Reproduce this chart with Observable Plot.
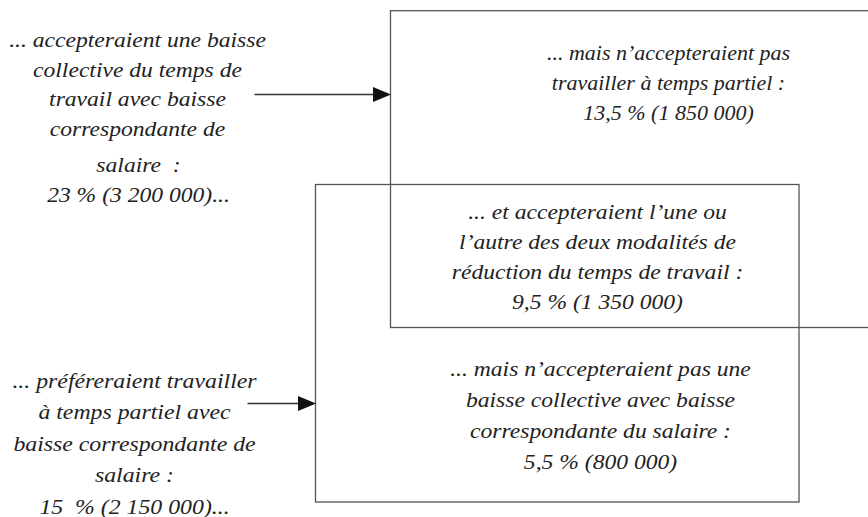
<!DOCTYPE html>
<html>
<head>
<meta charset="utf-8">
<script src="https://cdn.jsdelivr.net/npm/d3@7"></script>
<script src="https://cdn.jsdelivr.net/npm/@observablehq/plot@0.6"></script>
<style>
  html, body { margin: 0; padding: 0; background: #fff; overflow: hidden; }
</style>
</head>
<body>
<div id="chart"></div>
<script>
// ---- Diagram content ----
const boxNames = ["baisse collective", "temps partiel"];
const labelLines = [
  ["... accepteraient une baisse", "collective du temps de", "travail avec baisse", "correspondante de"],
  ["salaire  :", "23 % (3 200 000)..."],
  ["... mais n\u2019accepteraient pas", "travailler à temps partiel :", "13,5 % (1 850 000)"],
  ["... et accepteraient l\u2019une ou", "l\u2019autre des deux modalités de", "réduction du temps de travail :", "9,5 % (1 350 000)"],
  ["... mais n\u2019accepteraient pas une", "baisse collective avec baisse", "correspondante du salaire :", "5,5 % (800 000)"],
  ["... préféreraient travailler", "à temps partiel avec", "baisse correspondante de", "salaire :", "15  % (2 150 000)..."]
];

// ---- Layout (page coordinates, y grows downward) ----
const boxLeft   = [390.5, 315.5];
const boxRight  = [872, 799];
const boxTop    = [10.7, 184.5];
const boxBottom = [327.5, 502];

const arrowFrom  = [254, 247];
const arrowTo    = [390.5, 315.5];
const arrowY     = [94, 403];

const labelCenterX   = [137, 138, 668, 597, 600, 134];
const labelLastBase  = [135, 201, 119, 308, 468, 513];
const labelSpacing   = [29.4, 30, 30, 29.7, 30.7, 31.5];
const labelStretch   = [1.18, 1.18, 1.10, 1.18, 1.18, 1.19];

// ---- Build tables ----
const boxes = boxNames.map((name, i) => ({name, x1: boxLeft[i], x2: boxRight[i], y1: boxTop[i], y2: boxBottom[i]}));
const arrows = boxNames.map((name, i) => ({name, x1: arrowFrom[i], x2: arrowTo[i], y: arrowY[i]}));
const headLen = 18, headHalf = 7.5;
const heads = arrows.flatMap(a => [
  {id: a.name, x: a.x2, y: a.y},
  {id: a.name, x: a.x2 - headLen, y: a.y - headHalf},
  {id: a.name, x: a.x2 - headLen, y: a.y + headHalf}
]);

const fontSize = 20;
const textMarks = labelLines.map((lines, i) => Plot.text([lines.join("\n")], {
  x: () => labelCenterX[i],
  y: () => labelLastBase[i],
  text: d => d,
  textAnchor: "middle",
  lineAnchor: "bottom",
  lineHeight: labelSpacing[i] / fontSize,
  fontSize,
  fontStyle: "italic",
  fontFamily: "Liberation Serif",
  fill: "#222",
  className: "lbl" + i
}));

const chart = Plot.plot({
  width: 868,
  height: 517,
  margin: 0,
  style: {background: "#fff", overflow: "hidden"},
  x: {domain: [0, 868], range: [0, 868], axis: null},
  y: {domain: [0, 517], range: [0, 517], axis: null},
  marks: [
    Plot.rect(boxes, {x1: "x1", x2: "x2", y1: "y1", y2: "y2", fill: "none", stroke: "#555", strokeWidth: 1.3}),
    Plot.link(arrows, {x1: "x1", y1: "y", x2: d => d.x2 - headLen + 1, y2: "y", stroke: "#333", strokeWidth: 1.3}),
    Plot.line(heads, {x: "x", y: "y", z: "id", curve: "linear-closed", fill: "#111", stroke: "none"}),
    ...textMarks
  ]
});

// Widen glyphs horizontally to match the reference typeface proportions
labelStretch.forEach((s, i) => {
  chart.querySelectorAll(".lbl" + i + " text").forEach(t => {
    const tr = t.getAttribute("transform");
    if (tr) t.setAttribute("transform", tr + ` scale(${s},1)`);
  });
});

document.getElementById("chart").appendChild(chart);
</script>
</body>
</html>
